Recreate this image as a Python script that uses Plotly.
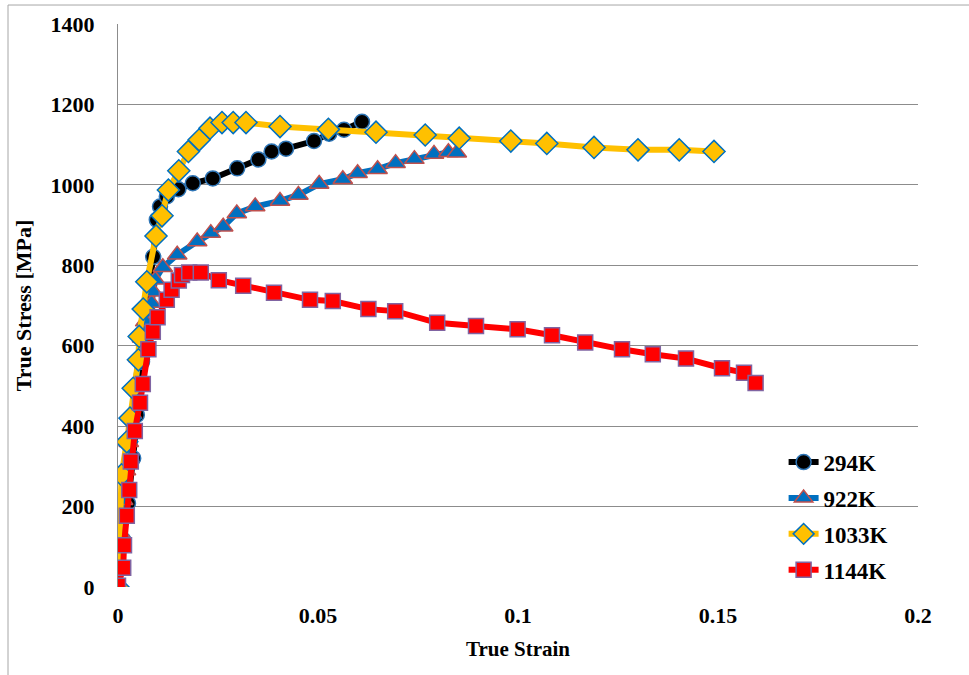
import plotly.graph_objects as go

# 294K
strain_294 = [0, 0.0, 0.0013, 0.0025, 0.0038, 0.0047, 0.006, 0.0072, 0.0088, 0.0097, 0.0105,
              0.0122, 0.0151, 0.0187, 0.0237, 0.0298, 0.0351, 0.0384, 0.042, 0.049, 0.0528,
              0.0565, 0.061]
stress_294 = [0, 50, 117, 208, 320, 428, 560, 700, 821, 913, 946,
              971, 989, 1004, 1016, 1041, 1063, 1083, 1090, 1109, 1127,
              1137, 1157]

# 922K
strain_922 = [0, 0.0002, 0.0005, 0.0009, 0.0013, 0.002, 0.0027, 0.0035, 0.0043, 0.0052, 0.006,
              0.0068, 0.0076, 0.0084, 0.0088, 0.0093, 0.0112, 0.0148, 0.0198, 0.0232, 0.0263,
              0.0297, 0.0343, 0.0405, 0.0451, 0.0503, 0.0562, 0.0599, 0.0649, 0.0694, 0.0741,
              0.079, 0.0826, 0.0847]
stress_922 = [0, 60, 134, 180, 216, 290, 360, 430, 500, 570, 620,
              660, 690, 706, 734, 764, 795, 826, 859, 880, 896,
              929, 946, 960, 975, 1002, 1014, 1029, 1039, 1054, 1064,
              1077, 1081, 1080]

# 1033K
strain_1033 = [0, 0.0009, 0.0022, 0.003, 0.0038, 0.0051, 0.0053, 0.0063, 0.0072, 0.0095, 0.011,
               0.0126, 0.0152, 0.0176, 0.0203, 0.023, 0.026, 0.0288, 0.032, 0.0405, 0.0526,
               0.0645, 0.0768, 0.0853, 0.0982, 0.1072, 0.119, 0.130, 0.1403, 0.149]
stress_1033 = [0, 279, 361, 420, 494, 565, 623, 691, 759, 873, 923,
               987, 1035, 1083, 1112, 1141, 1155, 1155, 1155, 1145, 1138,
               1131, 1124, 1116, 1109, 1103, 1093, 1087, 1087, 1083]

# 1144K
strain_1144 = [0, 0.0013, 0.0015, 0.0022, 0.0028, 0.0032, 0.0042, 0.0055, 0.0062, 0.0076, 0.0087,
               0.0099, 0.0122, 0.0134, 0.0152, 0.016, 0.0178, 0.0207, 0.0252, 0.0313, 0.039,
               0.048, 0.0537, 0.0626, 0.0693, 0.0798, 0.0895, 0.0999, 0.1085, 0.1168, 0.126,
               0.1337, 0.142, 0.151, 0.1565, 0.1594]
stress_1144 = [3, 48, 104, 177, 241, 312, 388, 458, 505, 591, 635,
               671, 714, 739, 762, 776, 782, 782, 763, 749, 732,
               714, 711, 691, 686, 657, 649, 641, 626, 608, 591,
               579, 568, 544, 533, 507]

x_ticks = [0, 0.05, 0.1, 0.15, 0.2]
x_tick_labels = ["0", "0.05", "0.1", "0.15", "0.2"]
y_ticks = [0, 200, 400, 600, 800, 1000, 1200, 1400]

FONT = "Liberation Serif"

series = [
    ("294K", strain_294, stress_294, "#000000", "circle", 15, "#2E75B6"),
    ("922K", strain_922, stress_922, "#0070C0", "triangle-up", 17, "#C0504D"),
    ("1033K", strain_1033, stress_1033, "#FFC000", "diamond", 17, "#0070C0"),
    ("1144K", strain_1144, stress_1144, "#FF0000", "square", 15, "#8064A2"),
]

fig = go.Figure()
for i, (name, xs, ys, col, sym, sz, edge) in enumerate(series):
    fig.add_trace(go.Scatter(
        x=xs, y=ys, name=name, mode="lines+markers",
        legendgroup=name,
        line=dict(color=col, width=6),
        marker=dict(symbol=sym, size=sz, color=col, line=dict(color=edge, width=1.5)),
    ))

fig.update_layout(
    width=969, height=675,
    margin=dict(l=118, r=51, t=24, b=88),
    paper_bgcolor="white", plot_bgcolor="white",
    font=dict(family=FONT, color="black", size=20),
    showlegend=True,
    legend=dict(x=0.832, y=0.26, xanchor="left", yanchor="top",
                bgcolor="rgba(0,0,0,0)", tracegroupgap=3,
                font=dict(family=FONT, size=23, color="black", weight="bold")),
    xaxis=dict(range=[0, 0.2], tickvals=x_ticks, ticktext=x_tick_labels,
               showgrid=False, zeroline=False, showline=False, ticks="",
               ticklabelstandoff=13,
               tickfont=dict(family=FONT, size=22, weight="bold"),
               title=dict(text="<b>True Strain</b>", font=dict(family=FONT, size=21), standoff=14)),
    yaxis=dict(range=[0, 1400], tickvals=y_ticks,
               showgrid=True, gridcolor="#8c8c8c", gridwidth=1,
               zeroline=False, showline=True, linecolor="#8c8c8c", linewidth=1,
               ticks="", ticklabelstandoff=18,
               tickfont=dict(family=FONT, size=22, weight="bold"),
               title=dict(text="<b>True Stress [MPa]</b>", font=dict(family=FONT, size=22), standoff=12)),
)

# outer chart border (left and top edges)
fig.add_shape(type="line", xref="paper", yref="paper", x0=-0.1375, x1=-0.1375, y0=1.0337, y1=-0.2,
              line=dict(color="#a6a6a6", width=1))
fig.add_shape(type="line", xref="paper", yref="paper", x0=-0.1375, x1=1.1, y0=1.0337, y1=1.0337,
              line=dict(color="#a6a6a6", width=1))

fig.write_html("out.html")
